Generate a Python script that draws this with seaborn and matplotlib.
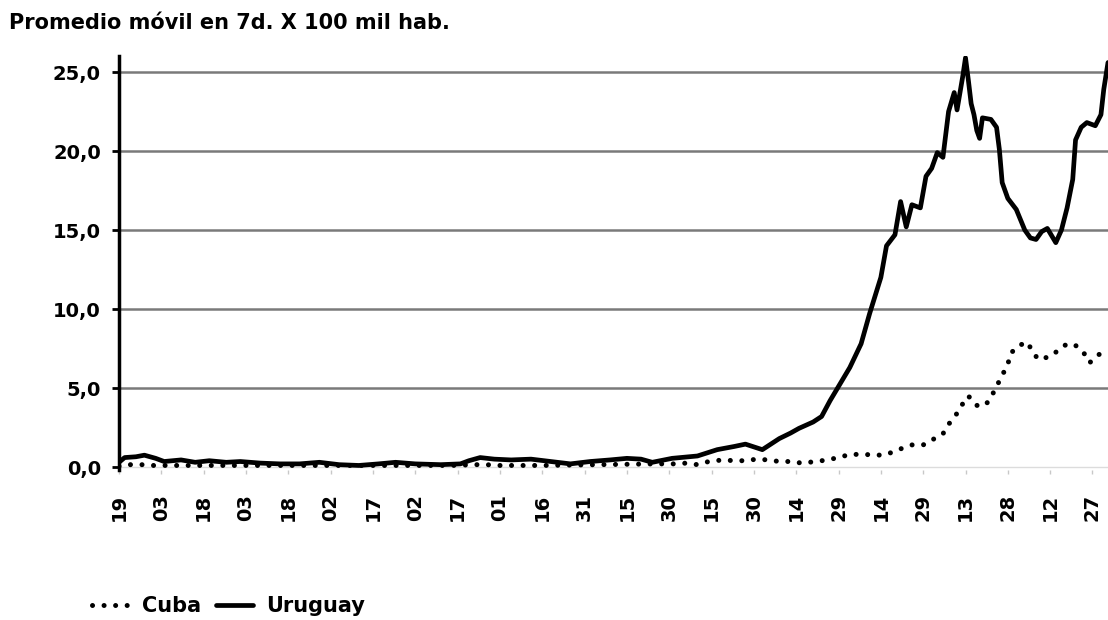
import pandas as pd
import numpy as np
import matplotlib.pyplot as plt
import seaborn as sns

# ── Data ──────────────────────────────────────────────────────────────────────
start = pd.Timestamp('2020-03-19')

uy_day = [0, 2, 6, 9, 13, 16, 22, 27, 32, 38, 43, 50, 57, 64, 71, 78, 85, 92, 98, 105,
          114, 121, 124, 128, 133, 139, 146, 153, 160, 167, 174, 180, 185, 189, 196, 205,
          212, 218, 222, 228, 234, 238, 241, 246, 249, 252, 255, 259, 263, 266, 270, 272,
          275, 277, 279, 281, 284, 286, 288, 290, 292, 294, 296, 297, 299, 300, 301, 302,
          303, 304, 305, 306, 309, 311, 312, 313, 315, 318, 321, 323, 325, 327, 329, 332,
          334, 336, 338, 339, 341, 343, 346, 348, 349, 350.5]
uy_val = [0.3, 0.6, 0.65, 0.75, 0.55, 0.35, 0.45, 0.3, 0.4, 0.3, 0.35, 0.25, 0.2, 0.2, 0.3, 0.15, 0.1, 0.2, 0.3, 0.2,
          0.15, 0.2, 0.4, 0.6, 0.5, 0.45, 0.5, 0.35, 0.2, 0.35, 0.45, 0.55, 0.5, 0.3, 0.55, 0.7,
          1.1, 1.3, 1.45, 1.1, 1.8, 2.15, 2.45, 2.85, 3.2, 4.2, 5.1, 6.3, 7.8, 9.7, 12.0, 14.0,
          14.7, 16.8, 15.2, 16.6, 16.4, 18.4, 18.9, 19.9, 19.6, 22.5, 23.7, 22.6, 24.7, 25.9, 24.5, 23.0,
          22.3, 21.3, 20.8, 22.1, 22.0, 21.5, 20.1, 18.0, 17.0, 16.3, 15.0, 14.5, 14.4, 14.9, 15.1, 14.2,
          15.0, 16.4, 18.2, 20.7, 21.5, 21.8, 21.6, 22.3, 23.9, 25.6]

cu_day = [0, 2, 4, 8, 12, 20, 40, 60, 80, 100, 118, 126, 130, 135, 150, 170, 190, 198, 201, 205,
          209, 214, 218, 222, 226, 230, 234, 238, 242, 247, 251, 255, 259, 264, 269, 272, 277, 281,
          285, 288, 292, 294, 297, 299, 301, 304, 307, 309, 311, 313, 315, 316, 319, 322, 324, 326,
          330, 333, 336, 339, 342, 344, 347, 350.5]
cu_val = [0.05, 0.1, 0.15, 0.15, 0.1, 0.1, 0.1, 0.1, 0.1, 0.1, 0.1, 0.15, 0.15, 0.1, 0.1, 0.15, 0.2, 0.2, 0.25, 0.15,
          0.35, 0.45, 0.4, 0.4, 0.5, 0.45, 0.35, 0.35, 0.25, 0.35, 0.45, 0.6, 0.8, 0.8, 0.75, 0.8, 1.15, 1.4,
          1.4, 1.7, 2.1, 2.7, 3.4, 4.0, 4.5, 3.9, 3.9, 4.4, 5.1, 5.8, 6.5, 7.2, 7.7, 7.9, 7.2, 6.8,
          7.0, 7.4, 7.8, 7.7, 7.2, 6.6, 7.1, 7.35]

y_ticks = [0, 5, 10, 15, 20, 25]
y_labels = ['0,0', '5,0', '10,0', '15,0', '20,0', '25,0']
x_ticks = pd.date_range(start, periods=24, freq='15D')
title = 'Promedio móvil en 7d. X 100 mil hab.'

# ── Setup ─────────────────────────────────────────────────────────────────────
sns.set_theme(style='white')
plt.rcParams['font.family'] = ['DejaVu Sans']
plt.rcParams['font.weight'] = 'bold'
plt.rcParams['text.color'] = 'black'
plt.rcParams['xtick.labelcolor'] = 'black'
plt.rcParams['ytick.labelcolor'] = 'black'

uy = pd.DataFrame({'fecha': start + pd.to_timedelta(uy_day, unit='D'), 'valor': uy_val})
cu = pd.DataFrame({'fecha': start + pd.to_timedelta(cu_day, unit='D'), 'valor': cu_val})

fig = plt.figure(figsize=(11.08, 6.2), dpi=100)
ax = fig.add_axes([119 / 1108, 1 - 470.2 / 620, 1 - 119 / 1108, 414 / 620])

# grid
for v in y_ticks[1:]:
    ax.axhline(v, color='#7a7a7a', lw=1.8, zorder=1)
ax.axhline(0, color='#dcdcdc', lw=1, zorder=1)

sns.lineplot(data=cu, x='fecha', y='valor', ax=ax, color='black', lw=3.6,
             linestyle=(0, (0.01, 2.3)), dash_capstyle='round', label='Cuba', zorder=3)
sns.lineplot(data=uy, x='fecha', y='valor', ax=ax, color='black', lw=3.4,
             solid_capstyle='round', label='Uruguay', zorder=4)

ax.set_xlim(start, start + pd.Timedelta(days=350.5))
ax.set_ylim(-0.2, 26)
ax.set_yticks(y_ticks, y_labels)
ax.set_xticks(x_ticks, [d.strftime('%d') for d in x_ticks], rotation=90)
ax.set_xlabel('')
ax.set_ylabel('')

for s in ['top', 'right', 'bottom']:
    ax.spines[s].set_visible(False)
ax.spines['left'].set_color('black')
ax.spines['left'].set_linewidth(2.5)

ax.tick_params(axis='y', left=True, length=5, width=2, color='black', pad=8, labelsize=14)
ax.tick_params(axis='x', bottom=True, length=3, width=1, color='#c8c8c8', pad=14, labelsize=14)

fig.text(9 / 1108, 1 - 23 / 620, title, fontsize=15, fontweight='bold', va='center', ha='left')

ax.get_legend().remove()
h, l = ax.get_legend_handles_labels()
fig.legend(h, l, loc='center left', bbox_to_anchor=(92 / 1108, 1 - 606 / 620), ncol=2,
           frameon=False, fontsize=15, handlelength=1.8, handletextpad=0.6,
           columnspacing=0.7, borderpad=0, borderaxespad=0)

plt.savefig('out.png', dpi=100)
plt.close()
